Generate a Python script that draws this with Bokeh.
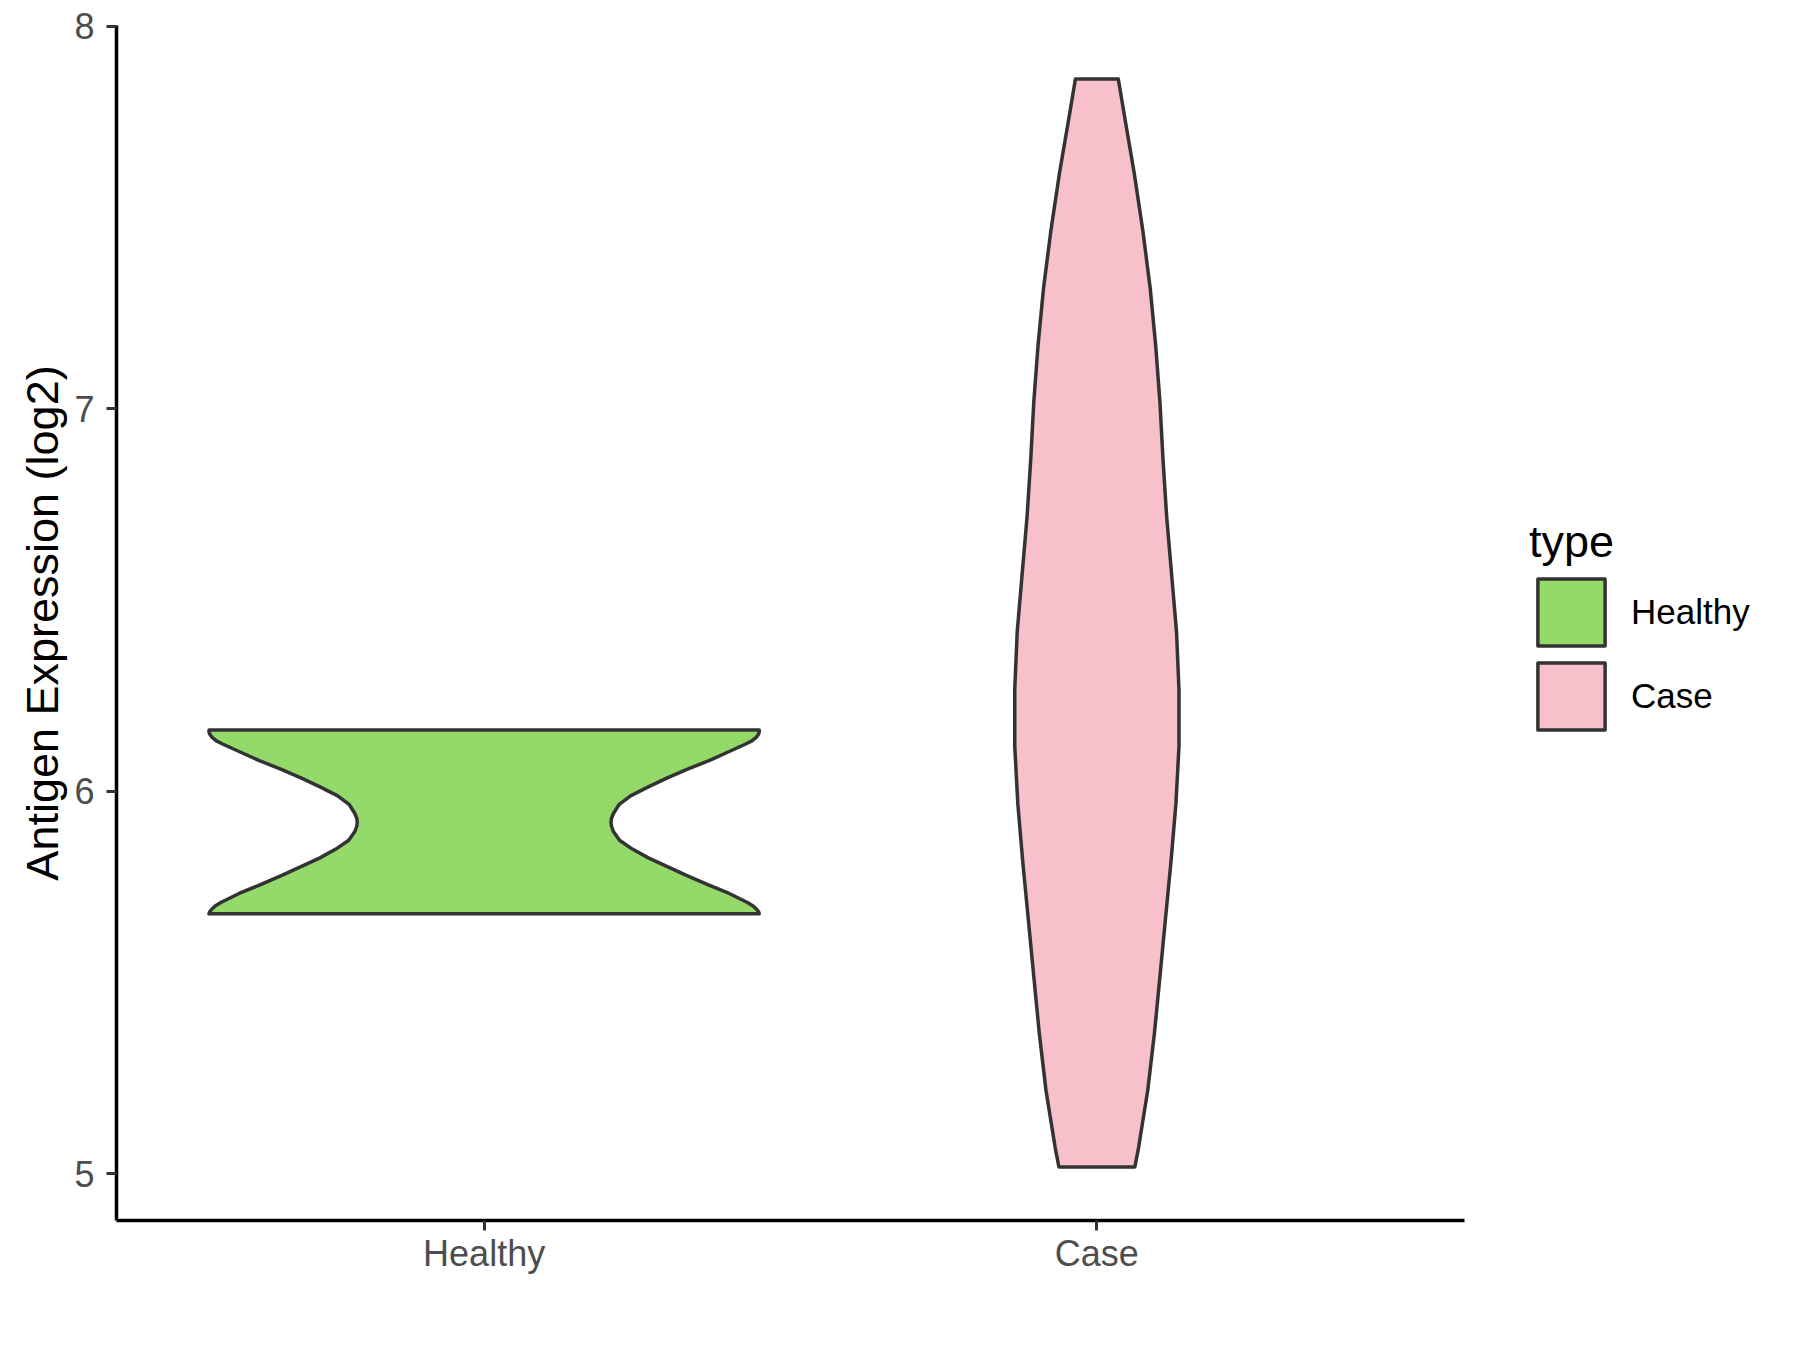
from bokeh.plotting import figure
from bokeh.models import Range1d, FixedTicker, Legend, LegendItem
from bokeh.embed import file_html
from bokeh.resources import INLINE

# ---- data ----
categories = ["Healthy", "Case"]
fill_colors = ["#93DA6A", "#F7C0CB"]
y_ticks = [5, 6, 7, 8]

# violin outline: y values (log2 expression) and half-widths (category units)
healthy_y = [6.160, 6.155, 6.150, 6.141, 6.132, 6.123, 6.104, 6.081, 6.058, 6.035, 6.011,
             5.988, 5.965, 5.942, 5.930, 5.919, 5.908, 5.895, 5.872, 5.849, 5.826, 5.803,
             5.779, 5.756, 5.733, 5.710, 5.700, 5.691, 5.685, 5.680]
healthy_hw = [0.449, 0.449, 0.448, 0.444, 0.437, 0.426, 0.400, 0.368, 0.332, 0.299, 0.267,
              0.239, 0.220, 0.211, 0.208, 0.207, 0.208, 0.211, 0.221, 0.242, 0.268, 0.299,
              0.332, 0.365, 0.400, 0.429, 0.439, 0.445, 0.448, 0.449]

case_y = [7.862, 7.766, 7.616, 7.466, 7.316, 7.166, 7.016, 6.866, 6.716, 6.567,
          6.417, 6.267, 6.117, 5.967, 5.817, 5.667, 5.517, 5.368, 5.218, 5.068, 5.018]
case_hw = [0.035, 0.045, 0.061, 0.075, 0.087, 0.096, 0.103, 0.108, 0.114, 0.122,
           0.130, 0.134, 0.134, 0.129, 0.121, 0.112, 0.103, 0.094, 0.083, 0.068, 0.062]

violins = [(healthy_y, healthy_hw), (case_y, case_hw)]

FONT = "Liberation Sans"

p = figure(frame_width=1348, frame_height=1195, output_backend="svg", toolbar_location=None,
           x_range=Range1d(0.4, 2.6), y_range=Range1d(4.878, 8.002),
           min_border_left=116, min_border_right=0, min_border_top=25,
           min_border_bottom=100)
p.outline_line_color = None
p.xgrid.visible = False
p.ygrid.visible = False
p.background_fill_color = "white"

renderers = []
for i, (ys, hws) in enumerate(violins):
    c = i + 1
    xs = [c - h for h in hws] + [c + h for h in reversed(hws)]
    yy = list(ys) + list(reversed(ys))
    r = p.patch(xs, yy, fill_color=fill_colors[i], line_color="#333333", line_width=3.5,
                line_join="round")
    renderers.append(r)

for ax in (p.xaxis[0], p.yaxis[0]):
    ax.axis_line_color = "black"
    ax.axis_line_width = 3.5
    ax.major_tick_line_color = "#333333"
    ax.major_tick_line_width = 3
    ax.major_tick_out = 10
    ax.major_tick_in = 0
    ax.minor_tick_line_color = None
    ax.major_label_text_font = FONT
    ax.major_label_text_font_size = "36px"
    ax.major_label_text_color = "#4D4D4D"

p.xaxis.ticker = FixedTicker(ticks=[1, 2])
p.xaxis.major_label_overrides = {i + 1: c for i, c in enumerate(categories)}
p.xaxis.major_label_standoff = 2
p.yaxis.ticker = FixedTicker(ticks=y_ticks)
p.yaxis.major_label_standoff = 12
p.yaxis.axis_label = "Antigen Expression (log2)"
p.yaxis.axis_label_text_font = FONT
p.yaxis.axis_label_text_font_size = "45px"
p.yaxis.axis_label_text_font_style = "normal"
p.yaxis.axis_label_text_color = "black"
p.yaxis.axis_label_standoff = 3

legend = Legend(
    items=[LegendItem(label=categories[i], renderers=[renderers[i]]) for i in range(2)],
    title="type", location=(65, 482), orientation="vertical",
    title_text_font=FONT, title_text_font_size="45px", title_text_font_style="normal",
    title_text_color="black", title_standoff=2,
    label_text_font=FONT, label_text_font_size="35px", label_text_color="black",
    glyph_width=84, glyph_height=84, spacing=0, label_standoff=18,
    padding=0, margin=0, border_line_color=None, background_fill_alpha=0,
)
p.add_layout(legend, "right")

open("out.html", "w").write(file_html(p, INLINE))
